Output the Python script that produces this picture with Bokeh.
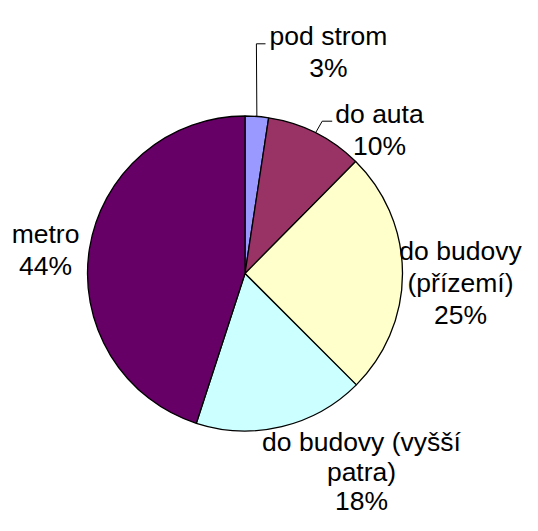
import math
from bokeh.plotting import figure
from bokeh.models import Range1d, ColumnDataSource
from bokeh.core.properties import value
from bokeh.embed import file_html
from bokeh.resources import INLINE

# ---- data ----
categories = ["pod strom", "do auta", "do budovy\n(přízemí)", "do budovy (vyšší\npatra)", "metro"]
shares = [2.4, 10.0, 25.1, 17.5, 45.0]
pct_labels = ["3%", "10%", "25%", "18%", "44%"]
colors = ["#9999FF", "#993366", "#FFFFCC", "#CCFFFF", "#660066"]

# ---- layout (picture pixel coordinates, y downward) ----
FW, FH = 522, 515
PIE_CX, PIE_CY, PIE_R = 244.5, 273.0, 157.5
FONT_PX = 26.5
# label block: centre x, first-line baseline y, line spacing
label_anchor = [(328, 35.5, 31.9), (379, 113.5, 31.9), (460, 250.5, 31.9),
                (361, 441.5, 29.5), (45, 233.3, 31.9)]
# leaders: points after the start point on the circle (None = no leader)
leader_pts = [[(255.9, 43.3), (265, 43.3)], [(321.7, 120.7), (331.7, 120.7)], None, None, None]


def to_data_y(sy):
    return FH - sy


p = figure(width=FW, height=FH, output_backend="svg", toolbar_location=None,
           x_axis_type=None, y_axis_type=None, min_border=0,
           x_range=Range1d(0, FW), y_range=Range1d(0, FH))
p.outline_line_color = None
p.grid.visible = False
p.background_fill_color = "white"
p.border_fill_color = "white"

total = sum(shares)
starts, ends, mids = [], [], []
c = 0.0
for s in shares:
    c0 = c / total
    c += s
    c1 = c / total
    starts.append(math.pi / 2 - 2 * math.pi * c0)
    ends.append(math.pi / 2 - 2 * math.pi * c1)
    mids.append(2 * math.pi * (c0 + c1) / 2)

src = ColumnDataSource(dict(x=[PIE_CX] * len(shares), y=[to_data_y(PIE_CY)] * len(shares),
                            start=starts, end=ends, color=colors))
p.wedge(x="x", y="y", radius=PIE_R, start_angle="start", end_angle="end", direction="clock",
        fill_color="color", line_color="black", line_width=1.3, source=src)

# leaders
lxs, lys = [], []
for i, pts in enumerate(leader_pts):
    if not pts:
        continue
    a = mids[i]
    sx = PIE_CX + PIE_R * math.sin(a)
    sy = PIE_CY - PIE_R * math.cos(a)
    lxs.append([sx] + [q[0] for q in pts])
    lys.append([to_data_y(sy)] + [to_data_y(q[1]) for q in pts])
p.multi_line(xs=lxs, ys=lys, line_color="black", line_width=1)

# labels
tx, ty, tt = [], [], []
for i, name in enumerate(categories):
    lines = name.split("\n") + [pct_labels[i]]
    ax, ay, lh = label_anchor[i]
    for k, ln in enumerate(lines):
        tx.append(ax)
        ty.append(to_data_y(ay + k * lh))
        tt.append(ln)
p.text(x=tx, y=ty, text=tt, text_align="center", text_baseline="alphabetic",
       text_font=value("Liberation Sans"), text_font_size=value(f"{FONT_PX}px"),
       text_color="black")

open("out.html", "w").write(file_html(p, INLINE))
